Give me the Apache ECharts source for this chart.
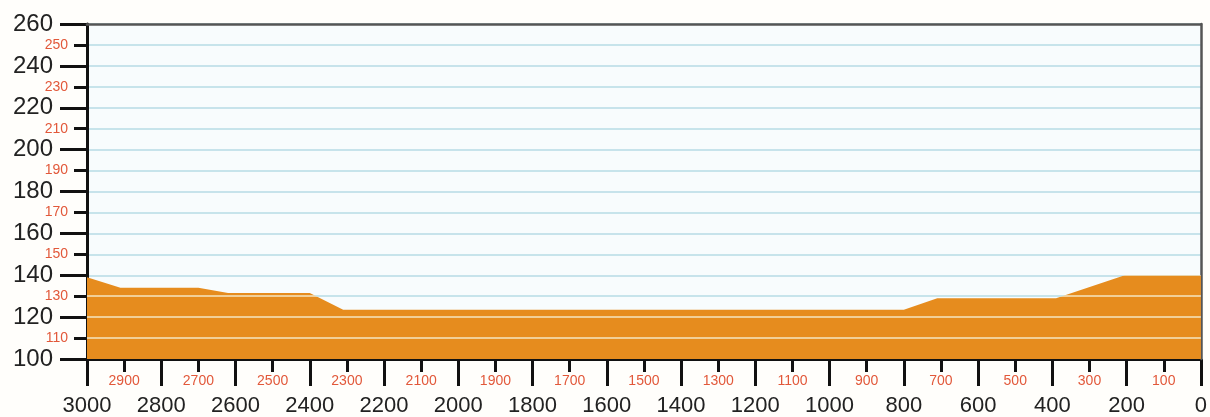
<!DOCTYPE html>
<html>
<head>
<meta charset="utf-8">
<style>
  html, body { margin: 0; padding: 0; background: #fffefb; }
  #chart { width: 1210px; height: 417px; }
</style>
<script src="https://cdn.jsdelivr.net/npm/echarts@6/dist/echarts.min.js"></script>
</head>
<body>
<div id="chart"></div>
<script>
// Profile data (distance to end, elevation)
const distances = [3000, 2910, 2700, 2620, 2400, 2310, 800, 710, 390, 205, 0];
const elevations = [139, 134, 134, 131.5, 131.5, 123.5, 123.5, 129, 129, 140, 140];
// Axis ranges
const yMin = 100, yMax = 260, yMajor = 20, yMinor = 10;
const xMin = 0, xMax = 3000, xMajor = 200, xMinor = 100;

const ORANGE = '#e68c1e';
const STRIPE = '#f1cf98';
const GRID_BLUE = '#b7dbe5';
const RED = '#e2583a';
const FONT = '"Liberation Sans", Arial, Helvetica, sans-serif';

// Gradient that redraws the horizontal grid lines as pale stripes over the fill
const topVal = Math.max(...elevations);
const span = topVal - yMin;
const hw = 0.5 / span;
const stops = [{ offset: 0, color: ORANGE }];
for (let v = yMin + yMinor; v <= topVal; v += yMinor) {
  const c = (topVal - v) / span;
  const a = Math.max(0, c - hw), b = Math.min(1, c + hw);
  stops.push({ offset: a, color: ORANGE });
  stops.push({ offset: a, color: STRIPE });
  stops.push({ offset: b, color: STRIPE });
  stops.push({ offset: b, color: ORANGE });
}
stops.push({ offset: 1, color: ORANGE });
stops.sort((p, q) => p.offset - q.offset);

const chart = echarts.init(document.getElementById('chart'));
chart.setOption({
  backgroundColor: '#fffefb',
  animation: false,
  grid: { left: 87, right: 6, top: 24, bottom: 58, show: true, backgroundColor: '#f8fcfd', borderWidth: 0 },
  xAxis: [
    {
      type: 'value', inverse: true, min: xMin, max: xMax, interval: xMajor, position: 'bottom',
      axisLine: { show: true, onZero: false, lineStyle: { color: '#111', width: 3 } },
      axisTick: { show: true, length: 27, lineStyle: { color: '#111', width: 3 } },
      minorTick: { show: true, splitNumber: xMajor / xMinor, length: 13, lineStyle: { color: '#111', width: 3 } },
      splitLine: { show: false },
      axisLabel: { show: true, margin: 36, fontSize: 22, color: '#222', fontFamily: FONT, showMinLabel: true, showMaxLabel: true,
        formatter: v => String(v) }
    },
    {
      type: 'value', inverse: true, min: xMin, max: xMax, interval: xMinor, position: 'bottom',
      axisLine: { show: false, onZero: false }, axisTick: { show: false }, splitLine: { show: false },
      axisLabel: {
        show: true, margin: 15, fontSize: 14, color: RED, fontFamily: FONT,
        formatter: v => (Math.round(v / xMinor) % 2 === 1 ? String(v) : '')
      }
    },
    {
      type: 'value', inverse: true, min: xMin, max: xMax, position: 'top', z: 1,
      axisLine: { show: true, onZero: false, lineStyle: { color: '#555', width: 2.5 } },
      axisTick: { show: false }, axisLabel: { show: false }, splitLine: { show: false }
    }
  ],
  yAxis: [
    {
      type: 'value', min: yMin, max: yMax, interval: yMajor, position: 'left',
      axisLine: { show: true, onZero: false, lineStyle: { color: '#111', width: 3 } },
      axisTick: { show: true, length: 27, lineStyle: { color: '#111', width: 3 } },
      minorTick: { show: true, splitNumber: yMajor / yMinor, length: 13, lineStyle: { color: '#111', width: 3 } },
      splitLine: { show: true, lineStyle: { color: GRID_BLUE, width: 1.5 } },
      minorSplitLine: { show: true, lineStyle: { color: GRID_BLUE, width: 1.5 } },
      axisLabel: { show: true, margin: 34, fontSize: 24, color: '#222', fontFamily: FONT }
    },
    {
      type: 'value', min: yMin, max: yMax, interval: yMinor, position: 'left',
      axisLine: { show: false, onZero: false }, axisTick: { show: false }, splitLine: { show: false },
      axisLabel: {
        show: true, margin: 19, fontSize: 14, color: RED, fontFamily: FONT,
        formatter: v => (Math.round(v / yMinor) % 2 === 1 ? String(v) : '')
      }
    },
    {
      type: 'value', min: yMin, max: yMax, position: 'right', z: 1,
      axisLine: { show: true, onZero: false, lineStyle: { color: '#555', width: 2.5 } },
      axisTick: { show: false }, axisLabel: { show: false }, splitLine: { show: false }
    }
  ],
  series: [
    {
      type: 'line',
      xAxisIndex: 0, yAxisIndex: 0,
      data: distances.map((d, i) => [d, elevations[i]]),
      showSymbol: false,
      lineStyle: { width: 0, color: ORANGE },
      areaStyle: {
        origin: 'start',
        opacity: 1,
        color: { type: 'linear', x: 0, y: 0, x2: 0, y2: 1, colorStops: stops }
      }
    }
  ]
});
</script>
</body>
</html>
